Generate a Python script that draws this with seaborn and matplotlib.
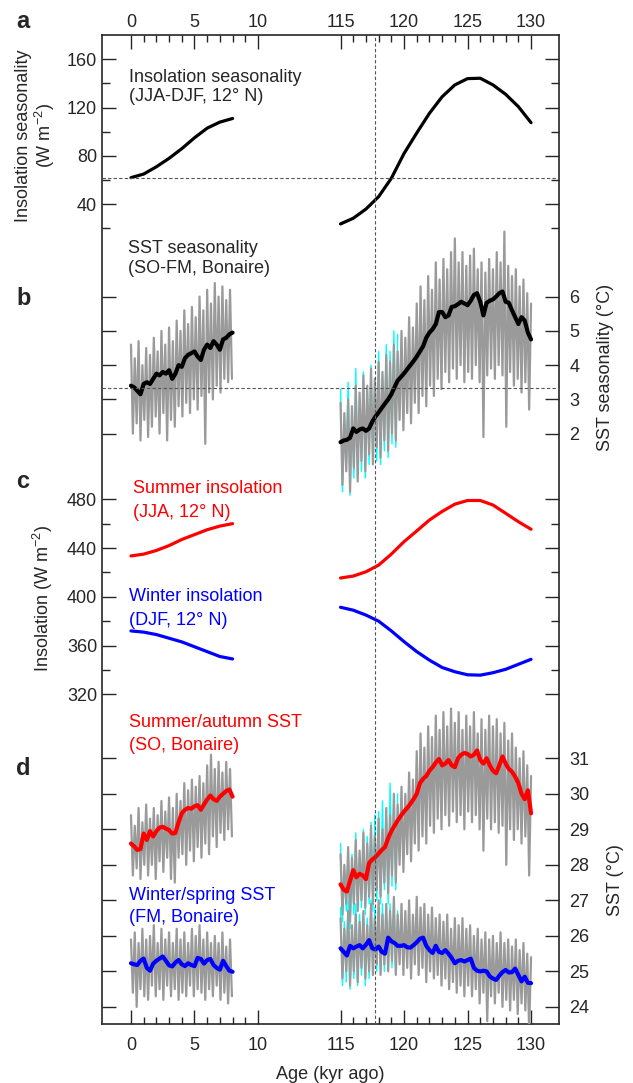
import numpy as np
import matplotlib
matplotlib.use("Agg")
import matplotlib.pyplot as plt
from matplotlib.ticker import FixedLocator, FixedFormatter, NullFormatter
import seaborn as sns

sns.set_style("ticks")
plt.rcParams['font.family'] = ['Liberation Sans', 'DejaVu Sans']
plt.rcParams['mathtext.fontset'] = 'custom'
plt.rcParams['mathtext.rm'] = 'Liberation Sans'
plt.rcParams['mathtext.default'] = 'regular'

# ---- data (ages in kyr ago) ----
age_ins_hol = np.arange(0, 9, 1)
age_ins_lig = np.arange(115, 131, 1)
seas_hol = [62, 65, 71, 78, 86, 95, 103, 108, 111]
seas_lig = [23.7, 28.4, 36, 46.3, 61.5, 82, 99, 115.3, 129, 138.8, 144, 144.3, 138.8, 131, 120.8, 107.5]
jja_hol = [433.5, 435, 438, 442, 447, 451, 455, 458, 460]
jja_lig = [415.4, 417, 420.5, 426, 435, 445.2, 454, 463, 470, 476, 479, 479, 475.3, 468.5, 461.6, 455.4]
djf_hol = [372, 371, 369, 366, 363, 359, 355, 351, 349]
djf_lig = [391.4, 389, 385, 380, 372, 363.2, 355, 348, 342, 338.5, 336, 335.7, 337.7, 340.5, 344.6, 348.7]

# coral records: raw (grey / cyan) and smoothed
age_raw_hol = np.round(np.arange(0, 8.0, 0.15), 2)
age_raw_lig = np.round(np.arange(115, 130.001, 0.15), 2)
age_cyan = np.round(np.arange(115, 119.51, 0.15), 2)
age_sm_hol = np.arange(0, 8.01, 0.25)
age_sm_lig = np.arange(115, 130.01, 0.25)

seas_sst_hol_raw = [4.6, 2.0, 4.2, 2.3, 4.7, 1.8, 4.0, 2.4, 4.5, 1.9,
                    4.3, 2.2, 4.8, 2.5, 4.4, 2.0, 5.0, 2.6, 4.6, 1.8,
                    5.1, 2.4, 4.7, 2.2, 5.3, 2.8, 5.0, 2.5, 5.6, 2.9,
                    5.2, 2.6, 5.7, 3.0, 5.4, 2.7, 6.0, 3.1, 5.6, 1.7,
                    6.2, 3.2, 5.8, 3.0, 6.4, 3.4, 6.0, 3.2, 6.3, 3.6,
                    5.9, 3.5, 6.2, 3.6]
seas_sst_hol_sm = [3.4, 3.35, 3.25, 3.15, 3.45, 3.5, 3.45, 3.6, 3.75, 3.7,
                   3.8, 3.75, 3.85, 3.6, 3.75, 4.0, 3.95, 4.2, 4.3, 4.35,
                   4.4, 4.25, 4.15, 4.45, 4.6, 4.5, 4.7, 4.6, 4.45, 4.75,
                   4.8, 4.9, 4.95]
seas_sst_lig_raw = [2.9, 0.5, 2.6, 0.9, 3.0, 0.3, 2.8, 1.0, 3.4, 0.6,
                    3.2, 1.2, 3.7, 0.9, 3.4, 1.4, 3.9, 1.1, 3.6, 1.6,
                    4.1, 1.3, 3.8, 1.8, 4.3, 1.5, 4.1, 2.0, 4.6, 1.8,
                    4.4, 2.4, 5.0, 2.1, 4.8, 2.6, 5.4, 2.3, 5.1, 2.9,
                    5.8, 2.6, 6.3, 3.1, 5.9, 2.8, 6.6, 3.4, 6.2, 3.1,
                    7.0, 3.6, 6.5, 3.3, 7.1, 3.8, 6.8, 3.5, 7.3, 3.9,
                    7.7, 3.6, 7.0, 4.0, 7.3, 3.5, 6.9, 3.8, 7.2, 3.6,
                    7.4, 4.0, 6.8, 3.5, 7.0, 1.9, 6.7, 3.7, 7.1, 3.9,
                    6.8, 3.6, 7.3, 4.0, 7.0, 3.7, 7.9, 2.2, 6.9, 3.8,
                    6.6, 3.4, 6.8, 3.6, 6.3, 3.2, 6.5, 3.5, 6.1, 2.7,
                    5.8]
seas_sst_lig_cyan = [3.3, 0.3, 2.4, 1.1, 3.5, 0.2, 2.6, 0.7, 3.9, 0.8,
                     3.0, 0.9, 3.8, 0.7, 3.3, 1.1, 4.0, 1.3, 3.4, 1.2,
                     4.4, 1.1, 3.7, 1.5, 4.6, 1.3, 4.4, 1.7, 5.0, 1.6,
                     4.9]
seas_sst_lig_sm = [1.75, 1.8, 1.82, 1.88, 2.15, 2.05, 2.12, 2.15, 2.08, 2.15,
                   2.35, 2.5, 2.62, 2.75, 2.88, 3.0, 3.15, 3.35, 3.55, 3.65,
                   3.76, 3.88, 4.0, 4.12, 4.25, 4.4, 4.55, 4.8, 4.95, 5.05,
                   5.2, 5.55, 5.55, 5.4, 5.45, 5.7, 5.72, 5.78, 5.85, 5.8,
                   5.75, 5.88, 6.05, 6.1, 5.85, 5.45, 5.82, 5.88, 5.92, 6.0,
                   6.1, 6.15, 5.85, 5.82, 5.6, 5.4, 5.2, 5.4, 5.3, 4.95,
                   4.75]

so_hol_raw = [29.4, 27.7, 29.1, 27.9, 29.6, 27.6, 29.2, 28.0, 29.7, 27.7,
              29.3, 28.0, 29.6, 27.6, 29.4, 28.1, 29.8, 27.8, 29.5, 28.2,
              29.9, 27.6, 29.6, 27.5, 30.0, 28.2, 29.8, 28.3, 30.3, 28.0,
              30.1, 28.4, 30.4, 28.1, 30.2, 28.5, 30.5, 28.2, 30.3, 28.6,
              30.8, 28.3, 31.1, 28.8, 30.7, 28.5, 30.9, 28.9, 30.6, 28.7,
              30.9, 29.0, 30.7, 28.8]
so_hol_sm = [28.6, 28.52, 28.42, 28.45, 28.88, 28.7, 28.95, 28.8, 28.95, 29.05,
             29.07, 29.02, 28.98, 28.88, 28.9, 29.2, 29.45, 29.55, 29.6, 29.58,
             29.65, 29.68, 29.55, 29.7, 29.84, 29.95, 29.85, 29.8, 29.92, 30.0,
             30.08, 30.12, 29.92]
so_lig_raw = [28.3, 26.6, 28.0, 26.9, 28.5, 26.4, 28.2, 26.9, 28.7, 26.7,
              28.4, 27.0, 28.9, 26.8, 28.6, 27.1, 29.1, 26.9, 28.8, 27.3,
              29.3, 27.1, 29.0, 27.5, 29.6, 27.2, 29.4, 27.7, 30.0, 27.5,
              29.7, 28.0, 30.2, 27.8, 30.0, 28.3, 30.6, 28.1, 30.4, 28.6,
              31.2, 28.4, 31.7, 28.8, 31.3, 28.6, 31.9, 29.1, 31.6, 28.9,
              32.2, 29.3, 31.8, 29.0, 32.3, 29.4, 31.9, 29.1, 32.4, 29.5,
              32.0, 29.2, 32.3, 29.4, 31.8, 29.0, 32.2, 29.5, 31.9, 29.2,
              32.3, 29.4, 31.7, 29.0, 32.1, 28.4, 31.8, 29.3, 32.2, 29.0,
              31.9, 29.2, 32.1, 28.9, 31.7, 29.1, 32.0, 28.0, 31.5, 29.0,
              31.7, 28.7, 31.3, 29.0, 31.0, 28.6, 31.2, 28.8, 30.8, 27.7,
              30.5]
so_lig_cyan = [28.6, 26.4, 27.8, 26.7, 28.4, 26.2, 28.3, 26.6, 28.9, 26.8,
               28.2, 26.8, 29.0, 26.6, 28.8, 26.9, 29.2, 26.7, 29.4, 27.0,
               29.5, 26.9, 29.8, 27.3, 29.5, 26.9, 30.3, 27.4, 29.9, 27.3,
               30.0]
so_lig_sm = [27.45, 27.3, 27.25, 27.55, 27.85, 27.65, 27.75, 27.7, 27.6, 28.05,
             28.15, 28.22, 28.32, 28.42, 28.5, 28.75, 28.95, 29.1, 29.25, 29.38,
             29.5, 29.6, 29.72, 29.85, 30.0, 30.3, 30.42, 30.5, 30.65, 30.75,
             30.88, 30.98, 30.8, 30.85, 30.95, 30.8, 30.75, 31.0, 31.1, 31.15,
             31.12, 31.05, 31.1, 31.22, 30.95, 30.85, 31.0, 30.8, 30.65, 30.58,
             30.8, 31.05, 30.85, 30.7, 30.62, 30.48, 30.3, 30.0, 29.85, 30.1,
             29.45]

fm_hol_raw = [25.9, 24.4, 26.1, 24.0, 25.8, 24.5, 26.2, 24.3, 25.9, 24.2,
              26.0, 24.6, 26.3, 24.3, 25.8, 24.5, 26.2, 24.2, 25.9, 24.6,
              26.1, 24.3, 25.8, 24.5, 26.2, 24.2, 25.9, 24.4, 26.1, 24.3,
              25.8, 24.6, 26.2, 24.3, 26.0, 24.5, 26.3, 24.4, 25.9, 24.2,
              26.1, 24.5, 25.8, 24.3, 26.0, 24.6, 25.8, 24.2, 26.1, 24.4,
              25.7, 24.1, 25.9, 24.3]
fm_hol_sm = [25.23, 25.2, 25.18, 25.3, 25.36, 25.1, 25.02, 25.22, 25.3, 25.36,
             25.42, 25.3, 25.17, 25.14, 25.25, 25.32, 25.2, 25.15, 25.23, 25.18,
             25.15, 25.38, 25.35, 25.22, 25.32, 25.35, 25.18, 25.1, 25.05, 25.3,
             25.15, 25.02, 24.99]
fm_lig_raw = [26.5, 24.8, 26.2, 25.0, 26.7, 24.6, 26.3, 25.0, 26.6, 24.7,
              26.4, 25.1, 26.7, 24.8, 26.3, 25.0, 26.9, 24.9, 26.5, 25.2,
              27.0, 24.9, 26.6, 25.2, 26.9, 25.0, 26.7, 25.3, 27.1, 24.9,
              26.6, 25.2, 26.9, 24.9, 26.7, 25.1, 27.0, 24.8, 26.6, 25.2,
              27.1, 24.9, 26.8, 25.1, 26.9, 24.7, 26.6, 25.0, 26.8, 24.8,
              26.5, 24.9, 26.6, 24.6, 26.4, 24.8, 26.6, 24.5, 26.2, 24.7,
              26.5, 24.4, 26.3, 24.6, 26.5, 24.3, 26.2, 24.6, 26.3, 24.3,
              26.0, 24.5, 26.2, 24.1, 25.9, 24.4, 26.1, 23.6, 25.9, 24.3,
              26.0, 24.1, 25.8, 24.4, 26.1, 24.0, 25.8, 24.2, 25.9, 23.9,
              25.7, 24.2, 25.9, 23.8, 25.6, 24.1, 25.8, 23.9, 25.5, 23.35,
              25.4]
fm_lig_cyan = [26.8, 24.6, 26.4, 24.7, 27.0, 24.5, 26.2, 24.8, 26.9, 24.6,
               26.6, 24.9, 26.5, 24.6, 26.5, 24.8, 27.0, 25.1, 26.8, 25.0,
               26.8, 25.1, 26.9, 25.0, 26.7, 25.2, 26.9, 25.1, 26.8, 25.0,
               26.7]
fm_lig_sm = [25.65, 25.55, 25.45, 25.72, 25.65, 25.7, 25.74, 25.65, 25.75, 25.88,
             25.65, 25.62, 25.7, 25.55, 25.5, 25.95, 25.85, 25.8, 25.72, 25.72,
             25.74, 25.68, 25.67, 25.74, 25.82, 25.92, 25.95, 25.72, 25.6, 25.52,
             25.72, 25.55, 25.52, 25.6, 25.5, 25.38, 25.23, 25.3, 25.32, 25.28,
             25.32, 25.36, 25.1, 25.02, 25.0, 25.02, 25.0, 24.86, 24.8, 24.76,
             24.88, 24.98, 25.04, 24.97, 24.98, 25.08, 24.9, 24.72, 24.85, 24.68,
             24.67]

x_major = [0, 5, 10, 115, 120, 125, 130]
x_minor = [1, 2, 3, 4, 6, 7, 8, 9, 116, 117, 118, 119, 121, 122, 123, 124, 126, 127, 128, 129]
t_event = 117.7


# broken age axis: 10-115 kyr squeezed
def fwd(a):
    a = np.asarray(a, dtype=float)
    return np.where(a <= 10, a, np.where(a >= 115, a - 98.5, 10 + (a - 10) * 6.5 / 105))


def inv(t):
    t = np.asarray(t, dtype=float)
    return np.where(t <= 10, t, np.where(t >= 16.5, t + 98.5, 10 + (t - 10) * 105 / 6.5))


W, H = 633, 1083
L, R, T, B = 102, 559, 35, 1024
rect = [L / W, 1 - B / H, (R - L) / W, (B - T) / H]
GREY = '#9a9a9a'
DASH = dict(color='#555555', lw=0.8, ls=(0, (3, 2)), zorder=6)
FS = 13
RAW_LW = 1.6

fig = plt.figure(figsize=(W / 100, H / 100), dpi=100)
ax = fig.add_axes(rect)
ax.set_xscale('function', functions=(fwd, inv))
ax.set_xlim(-2.28, 132.2)
ax.set_yticks([])
for s in ax.spines.values():
    s.set_linewidth(1.2)
    s.set_visible(True)


def overlay(ylim, major, minor=None, side='left'):
    a = fig.add_axes(rect, sharex=ax)
    a.patch.set_visible(False)
    for s in a.spines.values():
        s.set_visible(False)
    a.set_ylim(*ylim)
    a.set_yticks(major)
    if minor is not None:
        a.set_yticks(minor, minor=True)
    a.tick_params(axis='y', which='both', left=True, right=True, direction='in',
                  labelleft=(side == 'left'), labelright=(side == 'right'),
                  labelsize=FS, width=1, pad=3.5 if side == 'left' else 7.5)
    a.tick_params(axis='y', which='major', length=10)
    a.tick_params(axis='y', which='minor', length=5.5)
    return a


def trace(a, x, y, color, lw):
    sns.lineplot(x=x, y=y, ax=a, color=color, linewidth=lw, estimator=None)


# a: insolation seasonality
axa = overlay((-638.6, 180.1), [40, 80, 120, 160], [20, 60, 100, 140], 'left')
trace(axa, age_ins_hol, seas_hol, 'black', 2.3)
trace(axa, age_ins_lig, seas_lig, 'black', 2.3)
axa.axhline(62, **DASH)

# b: SST seasonality
axb = overlay((-15.24, 13.64), [2, 3, 4, 5, 6], None, 'right')
trace(axb, age_raw_hol, seas_sst_hol_raw, GREY, RAW_LW)
trace(axb, age_cyan, seas_sst_lig_cyan, 'cyan', 1.0)
trace(axb, age_raw_lig, seas_sst_lig_raw, GREY, RAW_LW)
trace(axb, age_sm_hol, seas_sst_hol_sm, 'black', 3)
trace(axb, age_sm_lig, seas_sst_lig_sm, 'black', 3)
axb.axhline(3.33, **DASH)

# c: summer / winter insolation
axc = overlay((49.5, 860.9), [320, 360, 400, 440, 480], [340, 380, 420, 460], 'left')
trace(axc, age_ins_hol, jja_hol, 'red', 2.3)
trace(axc, age_ins_lig, jja_lig, 'red', 2.3)
trace(axc, age_ins_hol, djf_hol, 'blue', 2.3)
trace(axc, age_ins_lig, djf_lig, 'blue', 2.3)

# d: SO and FM SST
axd = overlay((23.52, 51.36), [24, 25, 26, 27, 28, 29, 30, 31], None, 'right')
trace(axd, age_raw_hol, so_hol_raw, GREY, RAW_LW)
trace(axd, age_cyan, so_lig_cyan, 'cyan', 1.0)
trace(axd, age_raw_lig, so_lig_raw, GREY, RAW_LW)
trace(axd, age_raw_hol, fm_hol_raw, GREY, RAW_LW)
trace(axd, age_cyan, fm_lig_cyan, 'cyan', 1.0)
trace(axd, age_raw_lig, fm_lig_raw, GREY, RAW_LW)
trace(axd, age_sm_hol, so_hol_sm, 'red', 3)
trace(axd, age_sm_lig, so_lig_sm, 'red', 3)
trace(axd, age_sm_hol, fm_hol_sm, 'blue', 3)
trace(axd, age_sm_lig, fm_lig_sm, 'blue', 3)
axd.axvline(t_event, **DASH)

for a in (axa, axb, axc, axd):
    a.set_xlabel('')
    a.set_ylabel('')

# x ticks (shared ticker); main axes labels the bottom, panel a the top
ax.set_xlim(-2.28, 132.2)
ax.xaxis.set_major_locator(FixedLocator(x_major))
ax.xaxis.set_major_formatter(FixedFormatter([str(v) for v in x_major]))
ax.xaxis.set_minor_locator(FixedLocator(x_minor))
ax.xaxis.set_minor_formatter(NullFormatter())
ax.tick_params(axis='x', which='both', direction='in', bottom=True, top=False,
               labelbottom=True, labeltop=False, labelsize=FS, pad=9, width=1)
ax.tick_params(axis='x', which='major', length=10)
ax.tick_params(axis='x', which='minor', length=5)
for a in (axb, axc, axd):
    a.tick_params(axis='x', which='both', bottom=False, top=False,
                  labelbottom=False, labeltop=False)
axa.tick_params(axis='x', which='both', direction='in', bottom=False, top=True,
                labelbottom=False, labeltop=True, labelsize=FS, pad=3, width=1)
axa.tick_params(axis='x', which='major', length=10)
axa.tick_params(axis='x', which='minor', length=5)


def ftext(x, y, s, **kw):
    fig.text(x / W, 1 - y / H, s, fontsize=kw.pop('fontsize', FS), **kw)


# panel letters
for letter, (x, y) in zip('abcd', [(16, 28), (16, 305), (16, 488), (16, 775)]):
    ftext(x, y, letter, fontsize=17, weight='bold', va='baseline')

# annotations
ftext(129, 81.6, 'Insolation seasonality', va='baseline')
ftext(129, 100.6, '(JJA-DJF, 12° N)', va='baseline')
ftext(128, 253.3, 'SST seasonality', va='baseline')
ftext(128, 272.6, '(SO-FM, Bonaire)', va='baseline')
ftext(133, 492.6, 'Summer insolation', va='baseline', color='red')
ftext(133, 516.6, '(JJA, 12° N)', va='baseline', color='red')
ftext(129, 601, 'Winter insolation', va='baseline', color='blue')
ftext(129, 625, '(DJF, 12° N)', va='baseline', color='blue')
ftext(129, 726.6, 'Summer/autumn SST', va='baseline', color='red')
ftext(129, 750, '(SO, Bonaire)', va='baseline', color='red')
ftext(129, 900, 'Winter/spring SST', va='baseline', color='blue')
ftext(129, 921.6, '(FM, Bonaire)', va='baseline', color='blue')

# axis labels
ftext(36, 136, 'Insolation seasonality\n(W m$^{-2}$)', rotation=90, ha='center',
      va='center', multialignment='center', linespacing=1.0)
ftext(43, 599, 'Insolation (W m$^{-2}$)', rotation=90, ha='center', va='center')
ftext(606, 367, 'SST seasonality (°C)', rotation=90, ha='center', va='center')
ftext(616, 880, 'SST (°C)', rotation=90, ha='center', va='center')
ftext(330, 1079, 'Age (kyr ago)', ha='center', va='baseline')

fig.savefig('out.png', dpi=100)
